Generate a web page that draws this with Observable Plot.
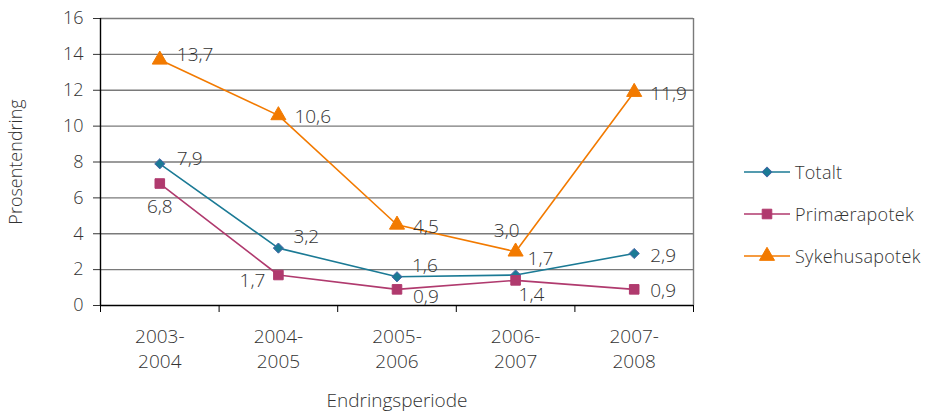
<!DOCTYPE html>
<html><head><meta charset="utf-8">
<script src="https://cdn.jsdelivr.net/npm/d3@7"></script>
<script src="https://cdn.jsdelivr.net/npm/@observablehq/plot@0.6"></script>
<style>
body{margin:0;background:#fff;font-family:"Open Sans",sans-serif;}
#wrap{position:relative;width:927px;height:415px;overflow:hidden;}
#chart{position:absolute;left:0;top:0;}
#legend{position:absolute;left:743px;top:151px;font-size:18px;color:#333;font-weight:300;letter-spacing:0.3px;}
.row{display:flex;align-items:center;height:42px;}
.row svg{margin-right:4px;}
</style></head>
<body>
<div id="wrap"><div id="chart"></div><div id="legend"></div></div>
<script>
const periods = ["2003-\n2004", "2004-\n2005", "2005-\n2006", "2006-\n2007", "2007-\n2008"];
const seriesNames = ["Totalt", "Primærapotek", "Sykehusapotek"];
const totalt = [7.9, 3.2, 1.6, 1.7, 2.9];
const primaer = [6.8, 1.7, 0.9, 1.4, 0.9];
const sykehus = [13.7, 10.6, 4.5, 3.0, 11.9];
const yTicks = [0, 2, 4, 6, 8, 10, 12, 14, 16];

// label placement keywords per series (relative to each point)
const placeTotalt = ["rightup", "upright", "upright", "above", "right"];
const placePrimaer = ["below", "lowleft", "lowright", "under", "right"];
const placeSykehus = ["rightup", "right", "right", "upleft", "right"];

const colors = ["#1b7a95", "#b03a6e", "#f27a00"];
const symbols = ["diamond2", "square", "triangle"];
const radii = [4.6, 5.4, 5.6];
const placeMap = {
  right:   {anchor: "start",  dx: 16,  dy: 2},
  rightup: {anchor: "start",  dx: 17,  dy: -5},
  upright: {anchor: "start",  dx: 15,  dy: -11},
  above:   {anchor: "start",  dx: 12,  dy: -16},
  below:   {anchor: "middle", dx: 0,   dy: 23},
  lowleft: {anchor: "end",    dx: -13, dy: 6},
  lowright:{anchor: "start",  dx: 16,  dy: 8},
  under:   {anchor: "start",  dx: 3,   dy: 15},
  upleft:  {anchor: "end",    dx: 4,   dy: -21}
};

const values = [totalt, primaer, sykehus];
const places = [placeTotalt, placePrimaer, placeSykehus];
const rows = [];
seriesNames.forEach((s, k) => values[k].forEach((v, i) => rows.push({
  series: s, k, i, value: v, place: placeMap[places[k][i]]
})));
const fmt = v => d3.format(".1f")(v).replace(".", ",");
const FS = 19;

const marks = [
  Plot.gridY({ticks: yTicks.slice(1), stroke: "#7a7a7a", strokeOpacity: 1, strokeWidth: 1.4}),
  Plot.ruleX([5], {stroke: "#7a7a7a", strokeWidth: 1.4}),
  Plot.axisY({ticks: yTicks, tickSize: 7, tickPadding: 10, fontSize: 18, fontWeight: 300, color: "#333",
    label: "Prosentendring", labelAnchor: "center", labelArrow: "none", labelOffset: 91}),
  Plot.axisX({ticks: d3.range(0, 6), tickSize: 7, tickFormat: () => "", label: null, stroke: "#000"}),
  Plot.axisX({ticks: d3.range(0, 5).map(i => i + 0.5), tickSize: 0, tickPadding: 20,
    tickFormat: t => periods[Math.floor(t)], lineHeight: 1.32, fontSize: FS, fontWeight: 300, color: "#333",
    label: "Endringsperiode", labelAnchor: "center", labelArrow: "none", labelOffset: 101}),
  Plot.ruleX([0], {stroke: "#000", strokeWidth: 1.4}),
  Plot.ruleY([0], {stroke: "#000", strokeWidth: 1.4}),
  Plot.line(rows, {x: d => d.i + 0.5, y: "value", z: "series", stroke: d => colors[d.k], strokeWidth: 1.6})
];
seriesNames.forEach((s, k) => {
  const data = rows.filter(d => d.k === k);
  marks.push(Plot.dot(data, {x: d => d.i + 0.5, y: "value", symbol: () => symbols[k], r: radii[k],
    fill: colors[k], stroke: k === 0 ? "#4a66a8" : colors[k], strokeWidth: 1}));
});
for (const [key, p] of Object.entries(placeMap)) {
  const data = rows.filter(d => d.place === p);
  if (!data.length) continue;
  marks.push(Plot.text(data, {x: d => d.i + 0.5, y: "value", text: d => fmt(d.value),
    textAnchor: p.anchor, dx: p.dx, dy: p.dy, fontSize: FS, fontWeight: 300, fill: "#333"}));
}

const chart = Plot.plot({
  width: 700, height: 415,
  marginLeft: 100, marginRight: 7, marginTop: 18, marginBottom: 110,
  style: {fontFamily: "'Open Sans', sans-serif", fontSize: "18px", fontWeight: 300, background: "transparent", color: "#333"},
  x: {type: "linear", domain: [0, 5]},
  y: {domain: [0, 16]},
  symbol: {type: "identity"},
  marks
});
document.getElementById("chart").append(chart);

// legend
const legend = d3.select("#legend");
seriesNames.forEach((s, k) => {
  const row = legend.append("div").attr("class", "row");
  const svg = row.append("svg").attr("width", 48).attr("height", 20);
  svg.append("line").attr("x1", 1).attr("x2", 47).attr("y1", 10).attr("y2", 10)
    .attr("stroke", colors[k]).attr("stroke-width", 1.6);
  const sym = {diamond2: d3.symbolDiamond2, square: d3.symbolSquare, triangle: d3.symbolTriangle}[symbols[k]];
  svg.append("path").attr("transform", "translate(24,10)")
    .attr("d", d3.symbol(sym, radii[k] * radii[k] * Math.PI)())
    .attr("fill", colors[k]).attr("stroke", k === 0 ? "#4a66a8" : colors[k]);
  row.append("span").text(s);
});
</script>
</body></html>
